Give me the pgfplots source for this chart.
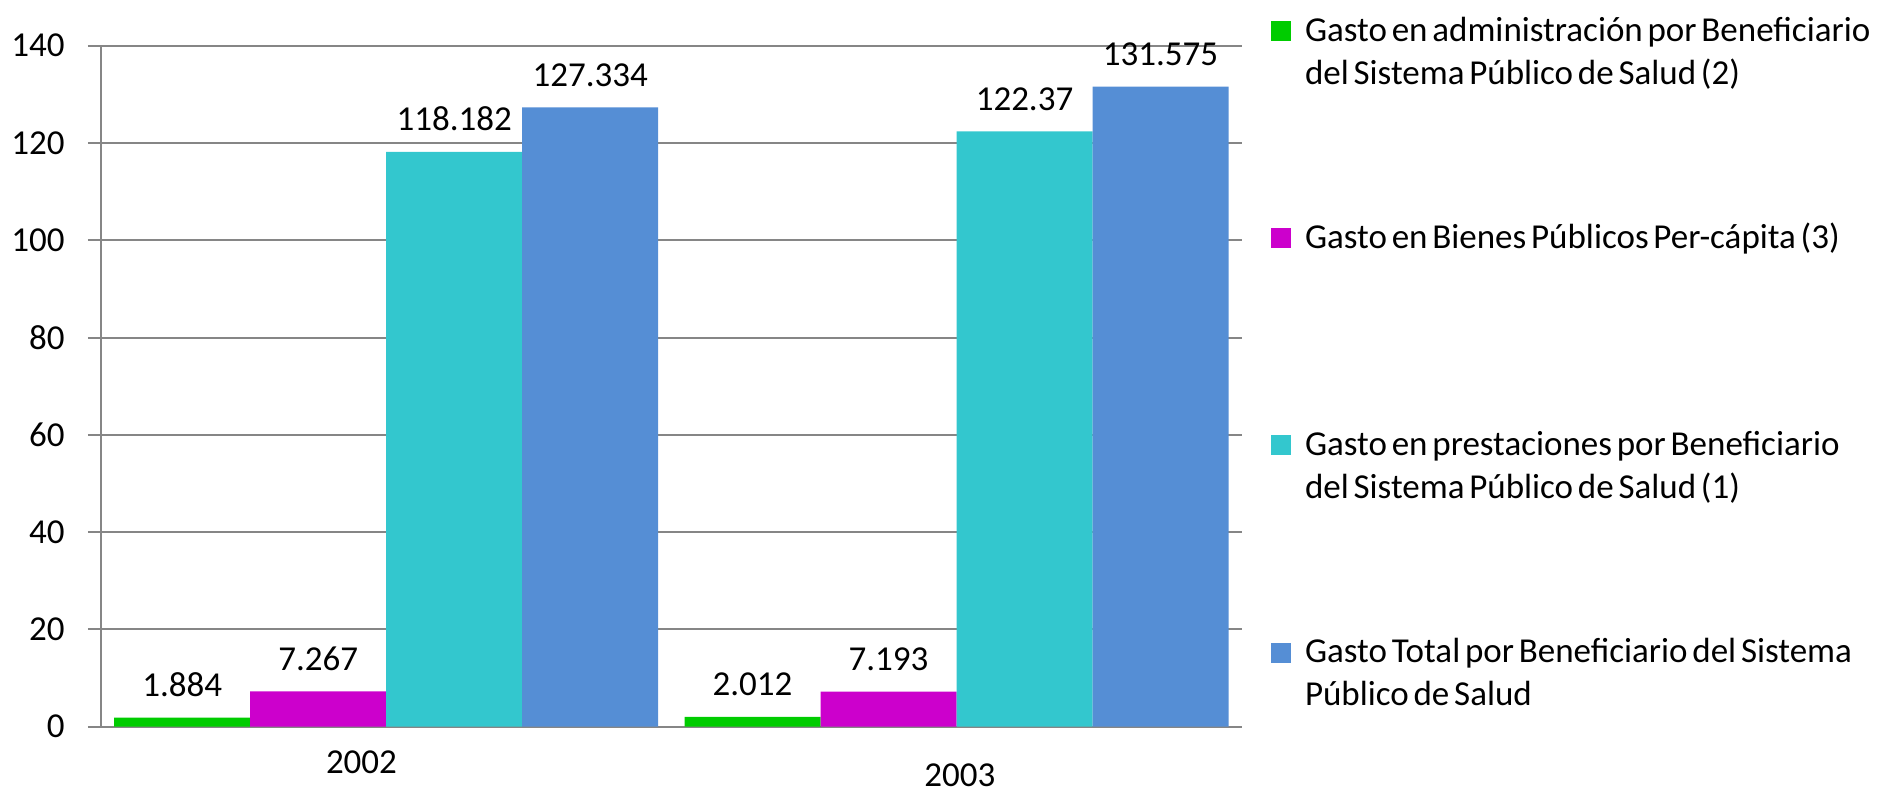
\documentclass[border=0pt]{standalone}
\usepackage{fontspec}
\setmainfont{Carlito}
\usepackage{pgfplots}
\usepackage{pgfplotstable}
\pgfplotsset{compat=1.18}
\definecolor{cGreen}{RGB}{0,204,0}
\definecolor{cMag}{RGB}{204,0,204}
\definecolor{cCyan}{RGB}{51,199,206}
\definecolor{cBlue}{RGB}{85,142,213}
\definecolor{axgray}{RGB}{134,134,134}
\pgfplotstableread{
x y lab
0 1.884 1.884
1 2.012 2.012
}\tadmin
\pgfplotstableread{
x y lab
0 7.267 7.267
1 7.193 7.193
}\tbienes
\pgfplotstableread{
x y lab
0 118.182 118.182
1 122.37 122.37
}\tprest
\pgfplotstableread{
x y lab
0 127.334 127.334
1 131.575 131.575
}\ttotal
\pgfplotsset{sqleg/.style={legend image code/.code={\fill[##1] (0pt,0pt) rectangle (10pt,10pt);}}}
\newcommand{\legtxt}[1]{\rule{0pt}{15pt}\smash{\parbox[t]{300pt}{\spaceskip=2.4pt plus 1pt minus 0.5pt\relax #1}}}
\begin{document}
\begin{tikzpicture}
\begin{axis}[
  at={(0,0)}, anchor=south west,
  scale only axis, width=570.35pt, height=340.5pt,
  xmin=-0.5, xmax=1.5, ymin=0, ymax=140,
  ytick={0,20,...,140},
  xtick={-0.0433,1.006}, xticklabels={2002,{\raisebox{-6.5pt}[\height][0pt]{2003}}},
  ybar=0pt, bar width=68pt,
  axis lines*=left,
  axis line style={draw=axgray, line width=1pt},
  ymajorgrids, grid style={draw=axgray, line width=1pt},
  tick align=outside, major tick length=6.5pt,
  ytick style={draw=axgray, line width=1pt},
  xtick style={draw=none},
  /pgf/number format/assume math mode=true,
  tick label style={font=\fontsize{17.5}{21}\selectfont, text=black},
  yticklabel style={anchor=east, inner sep=0pt, xshift=-11.5pt},
  xticklabel style={anchor=base, inner sep=0pt, yshift=-16.65pt},
  point meta=explicit symbolic,
  nodes near coords,
  every node near coord/.append style={anchor=base, inner sep=0pt, yshift=10.5pt, font=\fontsize{17.5}{21}\selectfont, text=black},
  every axis plot post/.append style={sqleg},
  legend style={at={(1.02569,1.05683)}, anchor=north west, draw=none, fill=none, inner sep=0pt, outer sep=0pt, row sep=83.1pt, column sep=5pt, font=\fontsize{17.5}{21.5}\selectfont, cells={anchor=base west, inner sep=0pt}},
]
\addplot[fill=cGreen, draw=none] table[x=x,y=y,meta=lab]{\tadmin};
\addlegendentry{\legtxt{Gasto en administración por Beneficiario\\del Sistema Público de Salud (2)}}
\addplot[fill=cMag, draw=none] table[x=x,y=y,meta=lab]{\tbienes};
\addlegendentry{\legtxt{Gasto en Bienes Públicos Per-cápita (3)}}
\addplot[fill=cCyan, draw=none] table[x=x,y=y,meta=lab]{\tprest};
\addlegendentry{\legtxt{Gasto en prestaciones por Beneficiario\\del Sistema Público de Salud (1)}}
\addplot[fill=cBlue, draw=none] table[x=x,y=y,meta=lab]{\ttotal};
\addlegendentry{\legtxt{Gasto Total por Beneficiario del Sistema\\Público de Salud}}
\end{axis}
\pgfresetboundingbox
\path[use as bounding box] (-50.5pt,-33.65pt) rectangle (893pt,363.35pt);
\end{tikzpicture}
\end{document}
